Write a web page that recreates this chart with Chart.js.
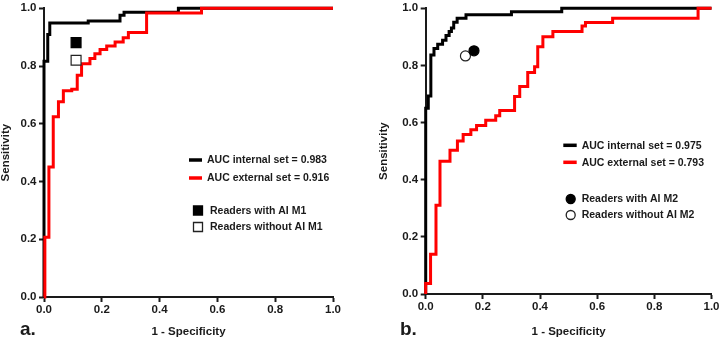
<!DOCTYPE html>
<html>
<head>
<meta charset="utf-8">
<script src="https://cdn.jsdelivr.net/npm/chart.js@4.4.1/dist/chart.umd.min.js"></script>
<style>
  body { margin: 0; background: #fff; width: 722px; height: 339px; overflow: hidden; position: relative; }
  .panel { position: absolute; top: 0; height: 339px; }
  #pa { left: 0; width: 350px; }
  #pb { left: 378px; width: 344px; }
</style>
</head>
<body>
<div class="panel" id="pa"><canvas id="chart-a"></canvas></div>
<div class="panel" id="pb"><canvas id="chart-b"></canvas></div>
<script>
// axis ticks (both panels)
const tickValues = [0, 0.2, 0.4, 0.6, 0.8, 1.0];

// panel a: ROC corners (1 - specificity, sensitivity)
const aInternalFpr = [0, 0, 0.013, 0.02, 0.153, 0.263, 0.277, 0.465, 1.0];
const aInternalTpr = [0, 0.817, 0.909, 0.949, 0.956, 0.976, 0.986, 1.0, 1.0];
const aExternalFpr = [0, 0.003, 0.017, 0.032, 0.05, 0.067, 0.096, 0.115, 0.13, 0.159, 0.176, 0.194, 0.217, 0.246, 0.274, 0.292, 0.355, 0.545, 1.0];
const aExternalTpr = [0, 0.207, 0.45, 0.624, 0.676, 0.714, 0.72, 0.768, 0.808, 0.826, 0.843, 0.857, 0.869, 0.883, 0.898, 0.916, 0.984, 1.0, 1.0];
const aReaderFpr = [0.111, 0.111];
const aReaderTpr = [0.881, 0.820];
const aLabels = ['AUC internal set = 0.983', 'AUC external set = 0.916', 'Readers with AI M1', 'Readers without AI M1'];

// panel b
const bInternalFpr = [0, 0, 0.009, 0.018, 0.029, 0.042, 0.059, 0.071, 0.082, 0.09, 0.098, 0.11, 0.141, 0.30, 0.476, 1.0];
const bInternalTpr = [0, 0.65, 0.693, 0.836, 0.859, 0.874, 0.888, 0.905, 0.919, 0.931, 0.951, 0.965, 0.977, 0.988, 1.0, 1.0];
const bExternalFpr = [0, 0, 0.017, 0.036, 0.05, 0.085, 0.111, 0.131, 0.158, 0.178, 0.21, 0.245, 0.259, 0.311, 0.329, 0.357, 0.381, 0.392, 0.41, 0.445, 0.547, 0.559, 0.654, 0.953, 1.0];
const bExternalTpr = [0, 0.037, 0.139, 0.311, 0.465, 0.503, 0.535, 0.558, 0.575, 0.59, 0.608, 0.624, 0.642, 0.691, 0.726, 0.775, 0.795, 0.865, 0.90, 0.919, 0.9375, 0.95, 0.965, 1.0, 1.0];
const bReaderFpr = [0.169, 0.139];
const bReaderTpr = [0.851, 0.833];
const bLabels = ['AUC internal set = 0.975', 'AUC external set = 0.793', 'Readers with AI M2', 'Readers without AI M2'];

const FONT = '"Liberation Sans", Arial, sans-serif';
const INK = '#1a1a1a';

const pts = (xs, ys) => xs.map((x, i) => ({ x: x, y: ys[i] }));

// legend + panel tag drawn inside the canvas
const panelLegend = {
  id: 'panelLegend',
  afterDraw(chart, args, opts) {
    const ctx = chart.ctx;
    const ds = chart.data.datasets;
    ctx.save();
    ctx.textBaseline = 'middle';
    ctx.font = 'bold 10.5px ' + FONT;
    opts.items.forEach(it => {
      const d = ds[it.ds];
      if (it.kind === 'line') {
        ctx.strokeStyle = d.borderColor;
        ctx.lineWidth = 3.5;
        ctx.beginPath();
        ctx.moveTo(it.x0, it.y);
        ctx.lineTo(it.x1, it.y);
        ctx.stroke();
      } else {
        ctx.fillStyle = d.backgroundColor;
        ctx.strokeStyle = d.borderColor;
        ctx.lineWidth = 1.3;
        ctx.beginPath();
        if (d.pointStyle === 'rect') {
          ctx.rect(it.cx - 4.5, it.y - 4.5, 9, 9);
        } else {
          ctx.arc(it.cx, it.y, 4.5, 0, Math.PI * 2);
        }
        ctx.fill();
        ctx.stroke();
      }
      ctx.fillStyle = INK;
      ctx.fillText(d.label, it.tx, it.y + 0.5);
    });
    ctx.font = 'bold 19px ' + FONT;
    ctx.textBaseline = 'alphabetic';
    ctx.fillText(opts.tag, opts.tagX, opts.tagY);
    ctx.restore();
  }
};

const axis = (title, fit, titlePad) => ({
  type: 'linear',
  min: 0,
  max: 1,
  afterFit: fit,
  afterBuildTicks: s => { s.ticks = tickValues.map(v => ({ value: v })); },
  border: { color: INK, width: 2 },
  grid: { drawOnChartArea: false, tickLength: 5, tickWidth: 2, tickColor: INK },
  ticks: {
    padding: 2.5,
    color: INK,
    font: { family: FONT, size: 11.5, weight: 'bold', lineHeight: 1 },
    callback: v => v.toFixed(1)
  },
  title: { display: true, text: title, color: INK, padding: titlePad, font: { family: FONT, size: 11.5, weight: 'bold' } }
});

const createRoc = (el, p) => {
  new Chart(document.getElementById(el), {
    type: 'scatter',
    data: {
      datasets: [
        { label: p.labels[2], data: pts([p.rFpr[0]], [p.rTpr[0]]), pointStyle: p.marker, radius: p.radius, backgroundColor: '#000', borderColor: '#000', borderWidth: 1.2 },
        { label: p.labels[3], data: pts([p.rFpr[1]], [p.rTpr[1]]), pointStyle: p.marker, radius: p.radius, backgroundColor: '#fff', borderColor: '#222', borderWidth: 1.2 },
        { label: p.labels[1], data: pts(p.exFpr, p.exTpr), showLine: true, stepped: 'before', borderColor: '#ff0000', borderWidth: 3, pointRadius: 0, clip: false },
        { label: p.labels[0], data: pts(p.inFpr, p.inTpr), showLine: true, stepped: 'before', borderColor: '#000', borderWidth: 3, pointRadius: 0, clip: false }
      ]
    },
    options: {
      animation: false,
      responsive: true,
      maintainAspectRatio: false,
      layout: { padding: p.padding },
      plugins: {
        legend: { display: false },
        tooltip: { enabled: false },
        panelLegend: p.legend
      },
      scales: {
        x: axis('1 - Specificity', s => { s.height = p.xHeight; }, 0),
        y: axis('Sensitivity', s => { s.width = p.yWidth; }, { top: p.yTitleShift })
      }
    },
    plugins: [panelLegend]
  });
};

createRoc('chart-a', {
  inFpr: aInternalFpr, inTpr: aInternalTpr, exFpr: aExternalFpr, exTpr: aExternalTpr,
  rFpr: aReaderFpr, rTpr: aReaderTpr, labels: aLabels,
  marker: 'rect', radius: 7,
  padding: { left: 0, right: 17, top: 8.3, bottom: 0 },
  xHeight: 42, yWidth: 44, yTitleShift: -1.5,
  legend: {
    tag: 'a.', tagX: 20, tagY: 335,
    items: [
      { ds: 3, kind: 'line', x0: 189, x1: 202, y: 160, tx: 207 },
      { ds: 2, kind: 'line', x0: 189, x1: 202, y: 178, tx: 207 },
      { ds: 0, kind: 'point', cx: 198, y: 210.5, tx: 210 },
      { ds: 1, kind: 'point', cx: 198, y: 227, tx: 210 }
    ]
  }
});

createRoc('chart-b', {
  inFpr: bInternalFpr, inTpr: bInternalTpr, exFpr: bExternalFpr, exTpr: bExternalTpr,
  rFpr: bReaderFpr, rTpr: bReaderTpr, labels: bLabels,
  marker: 'circle', radius: 5,
  padding: { left: 0, right: 9.3, top: 5.7, bottom: 0 },
  xHeight: 45, yWidth: 47.7, yTitleShift: -1,
  legend: {
    tag: 'b.', tagX: 22, tagY: 335,
    items: [
      { ds: 3, kind: 'line', x0: 185.3, x1: 198.7, y: 145.3, tx: 203.7 },
      { ds: 2, kind: 'line', x0: 185.3, x1: 198.7, y: 162.3, tx: 203.7 },
      { ds: 0, kind: 'point', cx: 192.7, y: 199, tx: 203.7 },
      { ds: 1, kind: 'point', cx: 192.7, y: 215, tx: 203.7 }
    ]
  }
});
</script>
</body>
</html>
